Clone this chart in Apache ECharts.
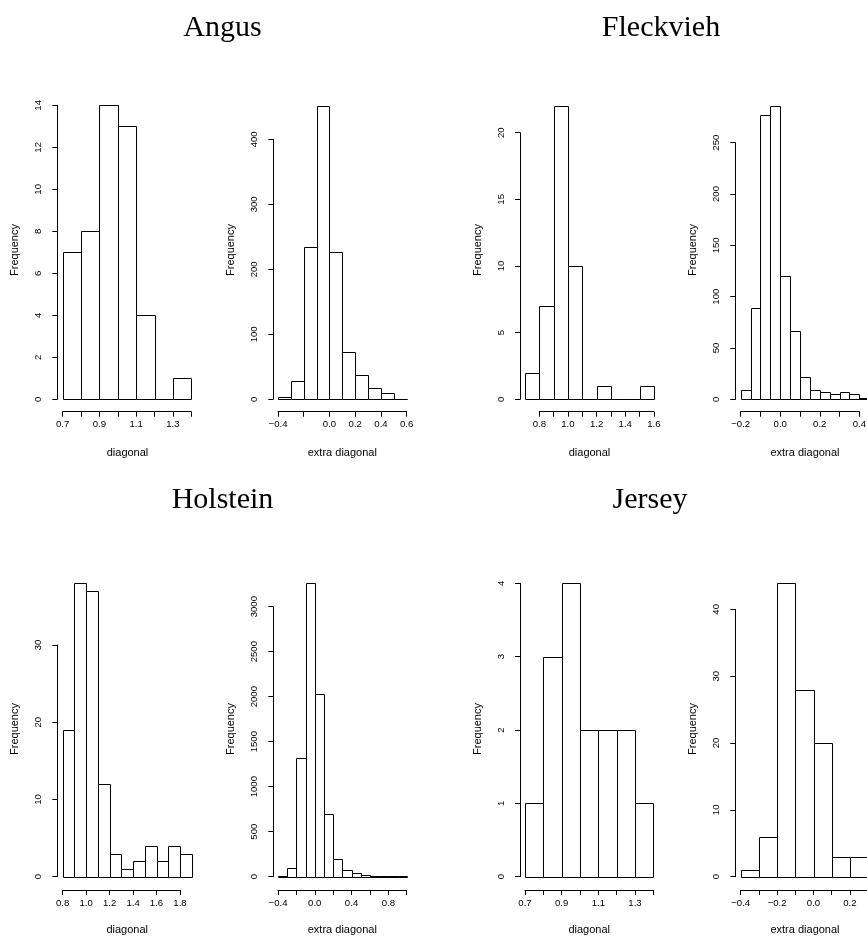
<!DOCTYPE html>
<html>
<head>
<meta charset="utf-8">
<title>Diagonal and extra-diagonal histograms by breed</title>
<script src="https://cdn.jsdelivr.net/npm/echarts@6/dist/echarts.min.js"></script>
<style>
  html, body { margin: 0; padding: 0; background: #ffffff; }
  #chart { width: 867px; height: 940px; }
</style>
</head>
<body>
<div id="chart"></div>
<script>
// ---- Data: histogram bin edges and counts per breed ----
const breeds = ['Angus', 'Fleckvieh', 'Holstein', 'Jersey'];

const angusDiagBreaks = [0.7, 0.8, 0.9, 1.0, 1.1, 1.2, 1.3, 1.4];
const angusDiagCounts = [7, 8, 14, 13, 4, 0, 1];
const angusExtraBreaks = [-0.4, -0.3, -0.2, -0.1, 0.0, 0.1, 0.2, 0.3, 0.4, 0.5, 0.6];
const angusExtraCounts = [4, 28, 234, 452, 226, 73, 37, 17, 9, 1];

const fleckDiagBreaks = [0.7, 0.8, 0.9, 1.0, 1.1, 1.2, 1.3, 1.4, 1.5, 1.6];
const fleckDiagCounts = [2, 7, 22, 10, 0, 1, 0, 0, 1];
const fleckExtraBreaks = [-0.2, -0.15, -0.1, -0.05, 0.0, 0.05, 0.1, 0.15, 0.2, 0.25, 0.3, 0.35, 0.4, 0.45];
const fleckExtraCounts = [9, 89, 277, 286, 120, 67, 22, 9, 7, 5, 7, 5, 1];

const holsteinDiagBreaks = [0.8, 0.9, 1.0, 1.1, 1.2, 1.3, 1.4, 1.5, 1.6, 1.7, 1.8, 1.9];
const holsteinDiagCounts = [19, 38, 37, 12, 3, 1, 2, 4, 2, 4, 3];
const holsteinExtraBreaks = [-0.4, -0.3, -0.2, -0.1, 0.0, 0.1, 0.2, 0.3, 0.4, 0.5, 0.6, 0.7, 0.8, 0.9, 1.0];
const holsteinExtraCounts = [8, 93, 1322, 3267, 2030, 693, 200, 78, 44, 15, 8, 4, 3, 3];

const jerseyDiagBreaks = [0.7, 0.8, 0.9, 1.0, 1.1, 1.2, 1.3, 1.4];
const jerseyDiagCounts = [1, 3, 4, 2, 2, 2, 1];
const jerseyExtraBreaks = [-0.4, -0.3, -0.2, -0.1, 0.0, 0.1, 0.2, 0.3];
const jerseyExtraCounts = [1, 6, 44, 28, 20, 3, 3];

// ---- Axis ticks: [min, max, step] and the tick labels that are printed ----
const angusDiagXTicks = [0.7, 1.4, 0.1];
const angusDiagXLabels = ['0.7', '0.9', '1.1', '1.3'];
const angusDiagYTicks = [0, 14, 2];
const angusExtraXTicks = [-0.4, 0.6, 0.2];
const angusExtraXLabels = ['−0.4', '0.0', '0.2', '0.4', '0.6'];
const angusExtraYTicks = [0, 400, 100];

const fleckDiagXTicks = [0.8, 1.6, 0.1];
const fleckDiagXLabels = ['0.8', '1.0', '1.2', '1.4', '1.6'];
const fleckDiagYTicks = [0, 20, 5];
const fleckExtraXTicks = [-0.2, 0.4, 0.1];
const fleckExtraXLabels = ['−0.2', '0.0', '0.2', '0.4'];
const fleckExtraYTicks = [0, 250, 50];

const holsteinDiagXTicks = [0.8, 1.8, 0.2];
const holsteinDiagXLabels = ['0.8', '1.0', '1.2', '1.4', '1.6', '1.8'];
const holsteinDiagYTicks = [0, 30, 10];
const holsteinExtraXTicks = [-0.4, 1.0, 0.2];
const holsteinExtraXLabels = ['−0.4', '0.0', '0.4', '0.8'];
const holsteinExtraYTicks = [0, 3000, 500];

const jerseyDiagXTicks = [0.7, 1.4, 0.1];
const jerseyDiagXLabels = ['0.7', '0.9', '1.1', '1.3'];
const jerseyDiagYTicks = [0, 4, 1];
const jerseyExtraXTicks = [-0.4, 0.3, 0.1];
const jerseyExtraXLabels = ['−0.4', '−0.2', '0.0', '0.2'];
const jerseyExtraYTicks = [0, 40, 10];

const xNames = ['diagonal', 'extra diagonal'];
const yName = 'Frequency';

// ---- Panel definitions (data references) ----
const panels = [
  { breaks: angusDiagBreaks, counts: angusDiagCounts, xt: angusDiagXTicks, xl: angusDiagXLabels, yt: angusDiagYTicks, xName: xNames[0] },
  { breaks: angusExtraBreaks, counts: angusExtraCounts, xt: angusExtraXTicks, xl: angusExtraXLabels, yt: angusExtraYTicks, xName: xNames[1] },
  { breaks: fleckDiagBreaks, counts: fleckDiagCounts, xt: fleckDiagXTicks, xl: fleckDiagXLabels, yt: fleckDiagYTicks, xName: xNames[0] },
  { breaks: fleckExtraBreaks, counts: fleckExtraCounts, xt: fleckExtraXTicks, xl: fleckExtraXLabels, yt: fleckExtraYTicks, xName: xNames[1] },
  { breaks: holsteinDiagBreaks, counts: holsteinDiagCounts, xt: holsteinDiagXTicks, xl: holsteinDiagXLabels, yt: holsteinDiagYTicks, xName: xNames[0] },
  { breaks: holsteinExtraBreaks, counts: holsteinExtraCounts, xt: holsteinExtraXTicks, xl: holsteinExtraXLabels, yt: holsteinExtraYTicks, xName: xNames[1] },
  { breaks: jerseyDiagBreaks, counts: jerseyDiagCounts, xt: jerseyDiagXTicks, xl: jerseyDiagXLabels, yt: jerseyDiagYTicks, xName: xNames[0] },
  { breaks: jerseyExtraBreaks, counts: jerseyExtraCounts, xt: jerseyExtraXTicks, xl: jerseyExtraXLabels, yt: jerseyExtraYTicks, xName: xNames[1] }
];

// ---- Layout (pixels): tick-span box of each panel and where its axis lines sit ----
// left/width: x span from first to last x tick; top/height: y span from top y tick to 0
// yAxisX: x of the y axis line; xAxisY: y of the x axis line; xNameX: centre of the x title
const layout = [
  { left: 62.7,  width: 128.6, top: 105.3, height: 294.0, yAxisX: 57.3,  xAxisY: 411.7, xNameX: 127.5 },
  { left: 278.0, width: 128.7, top: 139.3, height: 260.0, yAxisX: 273.3, xAxisY: 411.7, xNameX: 342.3 },
  { left: 539.3, width: 114.6, top: 132.7, height: 266.6, yAxisX: 520.0, xAxisY: 411.7, xNameX: 589.5 },
  { left: 740.7, width: 118.6, top: 142.7, height: 256.6, yAxisX: 735.3, xAxisY: 411.7, xNameX: 805.0 },
  { left: 62.7,  width: 117.3, top: 645.0, height: 231.7, yAxisX: 57.3,  xAxisY: 890.0, xNameX: 127.2 },
  { left: 278.0, width: 128.7, top: 606.7, height: 270.0, yAxisX: 273.3, xAxisY: 890.0, xNameX: 342.3 },
  { left: 525.0, width: 128.3, top: 583.3, height: 293.4, yAxisX: 520.0, xAxisY: 890.0, xNameX: 589.2 },
  { left: 740.7, width: 127.4, top: 609.3, height: 267.4, yAxisX: 735.3, xAxisY: 890.0, xNameX: 805.0 }
];
const titlePos = [[222.5, 28], [661, 28], [222.5, 500], [650, 500]];
const yNameY = [250, 729];
const xNameY = [453, 930];

const SANS = '"Liberation Sans", Arial, Helvetica, sans-serif';
const SERIF = '"Liberation Serif", "Times New Roman", serif';
const TICK_FONT = 9.6;

function fmtTick(v) {
  if (Math.abs(v) < 1e-9) v = 0;
  const s = v.toFixed(1);
  return s.replace('-', '\u2212');
}

const crisp = v => Math.round(v) + 0.5;

const grid = [], xAxis = [], yAxis = [], series = [], graphic = [];

panels.forEach((p, i) => {
  const L = layout[i];
  const row = i < 4 ? 0 : 1;
  grid.push({
    left: L.left, top: L.top, width: L.width, height: L.height,
    containLabel: false, outerBoundsMode: 'none'
  });
  const shown = p.xl;
  xAxis.push({
    type: 'value', gridIndex: i, position: 'bottom',
    min: p.xt[0], max: p.xt[1], interval: p.xt[2],
    offset: L.xAxisY - (L.top + L.height),
    axisLine: { show: true, onZero: false, lineStyle: { color: '#000', width: 1 } },
    axisTick: { show: true, length: 5, lineStyle: { color: '#000', width: 1 } },
    axisLabel: {
      show: true, margin: 8, color: '#000', fontFamily: SANS, fontSize: TICK_FONT,
      showMinLabel: true, showMaxLabel: true, hideOverlap: false,
      formatter: v => { const s = fmtTick(v); return shown.indexOf(s) >= 0 ? s : ''; }
    },
    splitLine: { show: false }
  });
  yAxis.push({
    type: 'value', gridIndex: i, position: 'left',
    min: p.yt[0], max: p.yt[1], interval: p.yt[2],
    offset: L.left - L.yAxisX,
    axisLine: { show: true, onZero: false, lineStyle: { color: '#000', width: 1 } },
    axisTick: { show: true, length: 5, lineStyle: { color: '#000', width: 1 } },
    axisLabel: {
      show: true, rotate: 90, margin: 14, color: '#000', fontFamily: SANS, fontSize: TICK_FONT,
      showMinLabel: true, showMaxLabel: true, hideOverlap: false,
      formatter: v => String(v)
    },
    splitLine: { show: false }
  });
  const data = p.counts.map((c, k) => [p.breaks[k], p.breaks[k + 1], c]);
  series.push({
    type: 'custom', xAxisIndex: i, yAxisIndex: i, clip: false,
    encode: { x: [0, 1], y: 2 },
    data: data,
    renderItem: (params, api) => {
      const top = api.coord([api.value(0), api.value(2)]);
      const bot = api.coord([api.value(1), 0]);
      const x0 = crisp(top[0]), x1 = crisp(bot[0]);
      const y0 = crisp(top[1]), y1 = crisp(bot[1]);
      return {
        type: 'rect',
        shape: { x: x0, y: y0, width: x1 - x0, height: y1 - y0 },
        style: { fill: '#ffffff', stroke: '#000000', lineWidth: 1 }
      };
    }
  });
  // axis titles
  graphic.push({
    type: 'text', x: L.xNameX, y: xNameY[row],
    style: { text: p.xName, fill: '#000', font: '11px ' + SANS, align: 'center', verticalAlign: 'middle' }
  });
  graphic.push({
    type: 'text', x: L.yAxisX - 42, y: yNameY[row], rotation: Math.PI / 2,
    style: { text: yName, fill: '#000', font: '11px ' + SANS, align: 'center', verticalAlign: 'middle' }
  });
});

breeds.forEach((b, i) => {
  graphic.push({
    type: 'text', x: titlePos[i][0], y: titlePos[i][1],
    style: { text: b, fill: '#000', font: '30px ' + SERIF, align: 'center', verticalAlign: 'middle' }
  });
});

const chart = echarts.init(document.getElementById('chart'), null, { renderer: 'canvas' });
chart.setOption({
  animation: false,
  backgroundColor: '#ffffff',
  grid: grid,
  xAxis: xAxis,
  yAxis: yAxis,
  series: series,
  graphic: graphic
});
</script>
</body>
</html>
